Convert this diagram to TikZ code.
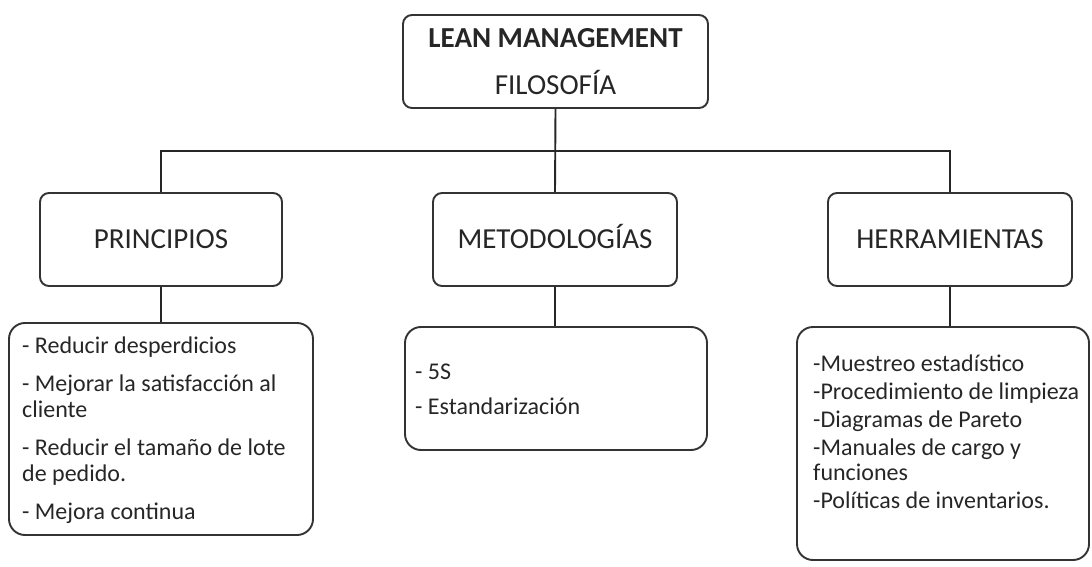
\documentclass[tikz,border=0pt]{standalone}
\usepackage{fontspec}
\setmainfont{Carlito}
\begin{document}
\begin{tikzpicture}[x=1pt,y=-1pt,
  edge/.style={draw=black!85, line width=1.9pt},
  headbox/.style={draw=black!80, line width=1.9pt, rounded corners=9pt, inner sep=0pt,
    text=black!85, font=\fontsize{29}{34}\selectfont, minimum height=93pt},
  oneline/.style={text height=18.7pt, text depth=0pt},
  listbox/.style={draw=black!80, line width=1.9pt, rounded corners=16pt, inner sep=0pt},
  listtext/.style={anchor=north west, inner sep=0pt, align=left, text=black!85}]
\useasboundingbox (0,0) rectangle (1092,567);

% top node
\node[headbox, minimum width=305pt, align=center, font=\fontsize{29}{47}\selectfont]
  (lean) at (555.5,61.5) {\textbf{LEAN MANAGEMENT}\\FILOSOFÍA};

% second level
\node[headbox, oneline, minimum width=242pt] (prin) at (161,239.5) {PRINCIPIOS};
\node[headbox, oneline, minimum width=244pt] (meto) at (555,239.5) {METODOLOGÍAS};
\node[headbox, oneline, minimum width=244pt] (herr) at (950,239.5) {HERRAMIENTAS};

% detail boxes
\node[listbox, minimum width=304pt, minimum height=212pt] (plist) at (161,429) {};
\node[listbox, minimum width=302pt, minimum height=123pt] (mlist) at (556,388.5) {};
\node[listbox, minimum width=292pt, minimum height=233pt] (hlist) at (943,443.5) {};

% detail texts
\node[listtext, font=\fontsize{24}{26}\selectfont] (ptext) at (22,337)
  {- Reducir desperdicios\\[12pt]- Mejorar la satisfacción al\\cliente\\[12pt]- Reducir el tamaño de lote\\de pedido.\\[12pt]- Mejora continua};
\node[listtext, font=\fontsize{24}{26}\selectfont] (mtext) at (415,364)
  {- 5S\\[9pt]- Estandarización};
\node[listtext, font=\fontsize{24}{25}\selectfont] (htext) at (813,355)
  {-Muestreo estadístico\\[3pt]-Procedimiento de limpieza\\[3pt]-Diagramas de Pareto\\[3pt]-Manuales de cargo y\\funciones\\[3pt]-Políticas de inventarios.};

% connectors
\coordinate (bus) at (555,151);
\draw[edge] (prin.north) |- (bus) -| (herr.north);
\draw[edge] (lean.south) -- (meto.north);
\draw[edge] (prin.south) -- (plist.north);
\draw[edge] (meto.south) -- (meto.south |- mlist.north);
\draw[edge] (herr.south) -- (herr.south |- hlist.north);
\end{tikzpicture}
\end{document}
